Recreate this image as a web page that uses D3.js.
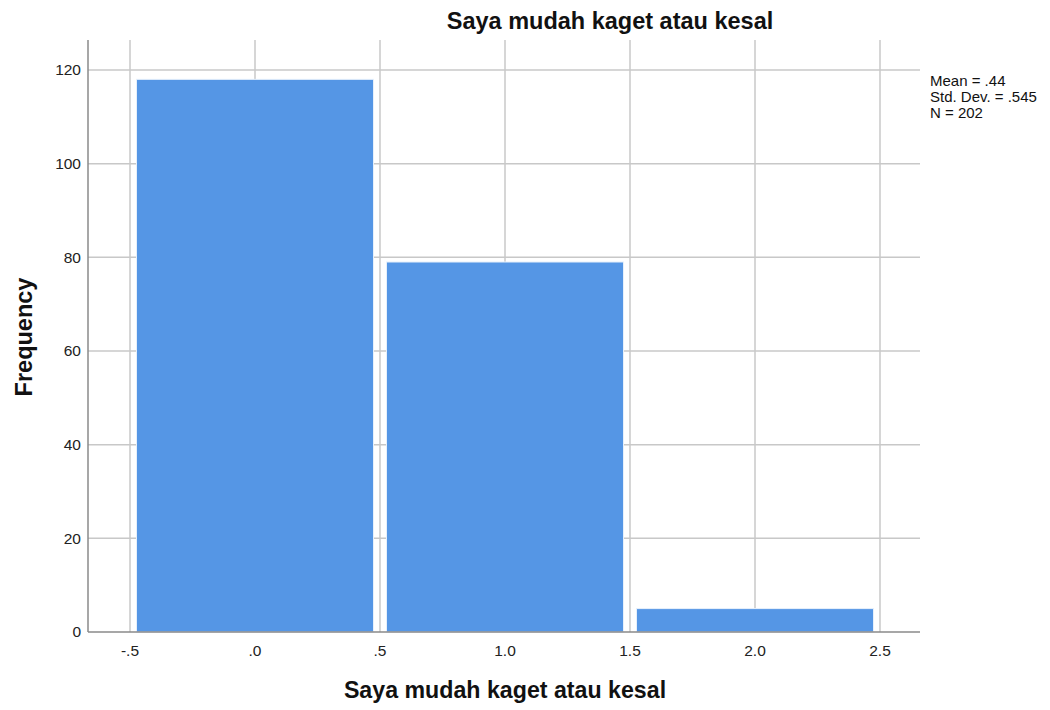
<!DOCTYPE html>
<html>
<head>
  <title>Saya mudah kaget atau kesal</title>
  <script src="https://d3js.org/d3.v7.min.js"></script>
  <style>
    body { margin: 0; background: #fff; }
    text { font-family: Arial, "Liberation Sans", sans-serif; }
  </style>
</head>
<body>

<div id="chart"></div>

<script>
// Histogram data (bin edges and counts)
const binStarts = [-0.5, 0.5, 1.5];
const binEnds = [0.5, 1.5, 2.5];
const counts = [118, 79, 5];
const xTicks = [-0.5, 0, 0.5, 1, 1.5, 2, 2.5];
const xTickLabels = ["-.5", ".0", ".5", "1.0", "1.5", "2.0", "2.5"];
const yTicks = [0, 20, 40, 60, 80, 100, 120];
const stats = ["Mean = .44", "Std. Dev. = .545", "N = 202"];

const width = 1050;
const height = 710;
const plotLeft = 88, plotRight = 920, plotTop = 40, plotBottom = 632;

const svg = d3.select("#chart")
  .append("svg")
  .attr("width", width)
  .attr("height", height);

const x = d3.scaleLinear().domain([-0.668, 2.66]).range([plotLeft, plotRight]);
const y = d3.scaleLinear().domain([0, 126.4]).range([plotBottom, plotTop]);

const grid = "#c8c8c8";

// gridlines
svg.append("g").selectAll("line")
  .data(yTicks.filter(d => d > 0))
  .join("line")
  .attr("x1", plotLeft).attr("x2", plotRight)
  .attr("y1", d => y(d)).attr("y2", d => y(d))
  .attr("stroke", grid).attr("stroke-width", 1.5);

svg.append("g").selectAll("line")
  .data(xTicks)
  .join("line")
  .attr("x1", d => x(d)).attr("x2", d => x(d))
  .attr("y1", plotTop).attr("y2", plotBottom)
  .attr("stroke", grid).attr("stroke-width", 1.5);

// bars
svg.append("g").selectAll("rect")
  .data(counts)
  .join("rect")
  .attr("x", (d, i) => x(binStarts[i]) + 6.5)
  .attr("width", (d, i) => x(binEnds[i]) - x(binStarts[i]) - 13)
  .attr("y", d => y(d))
  .attr("height", d => y(0) - y(d))
  .attr("fill", "#5596e5")
  .attr("stroke", "#e6f0fb")
  .attr("stroke-width", 1);

// axes lines
svg.append("line")
  .attr("x1", plotLeft).attr("x2", plotLeft).attr("y1", plotTop).attr("y2", plotBottom)
  .attr("stroke", "#8a8a8a").attr("stroke-width", 1.5);
svg.append("line")
  .attr("x1", plotLeft).attr("x2", plotRight).attr("y1", plotBottom).attr("y2", plotBottom)
  .attr("stroke", "#8a8a8a").attr("stroke-width", 1.5);

// tick labels
svg.append("g").selectAll("text")
  .data(yTicks)
  .join("text")
  .attr("x", plotLeft - 7)
  .attr("y", d => y(d))
  .attr("dy", "0.35em")
  .attr("text-anchor", "end")
  .attr("font-size", 15.5)
  .attr("fill", "#222")
  .text(d => d);

svg.append("g").selectAll("text")
  .data(xTicks)
  .join("text")
  .attr("x", d => x(d))
  .attr("y", plotBottom + 24)
  .attr("text-anchor", "middle")
  .attr("font-size", 15.5)
  .attr("fill", "#222")
  .text((d, i) => xTickLabels[i]);

// titles
svg.append("text")
  .attr("x", 610).attr("y", 29)
  .attr("text-anchor", "middle")
  .attr("font-size", 23.5).attr("font-weight", "bold")
  .attr("fill", "#111")
  .text("Saya mudah kaget atau kesal");

svg.append("text")
  .attr("x", 505).attr("y", 698)
  .attr("text-anchor", "middle")
  .attr("font-size", 23.2).attr("font-weight", "bold")
  .attr("fill", "#111")
  .text("Saya mudah kaget atau kesal");

svg.append("text")
  .attr("transform", `translate(32,337) rotate(-90)`)
  .attr("text-anchor", "middle")
  .attr("font-size", 23.5).attr("font-weight", "bold")
  .attr("fill", "#111")
  .text("Frequency");

// stats box
svg.append("g").selectAll("text")
  .data(stats)
  .join("text")
  .attr("x", 930)
  .attr("y", (d, i) => 86 + i * 16)
  .attr("font-size", 15)
  .attr("fill", "#111")
  .text(d => d);
</script>

</body>
</html>
